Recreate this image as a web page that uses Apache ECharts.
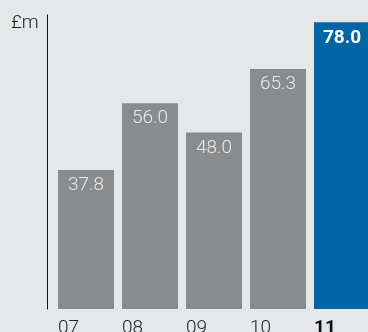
<!DOCTYPE html>
<html>
<head>
<meta charset="utf-8">
<style>
  html, body { margin: 0; padding: 0; background: #e6e7e9; }
  #chart { width: 368px; height: 332px; }
</style>
<script src="https://cdn.jsdelivr.net/npm/echarts@6/dist/echarts.min.js"></script>
</head>
<body>
<div id="chart"></div>
<script>
// Annual figures in £m
const years = ['07', '08', '09', '10', '11'];
const values = [37.8, 56.0, 48.0, 65.3, 78.0];
const highlightIndex = 4;

const grey = '#8a8b8d';
const blue = '#0065a5';
const font = 'Roboto, "Liberation Sans", sans-serif';
const barWidth = 56;

const chart = echarts.init(document.getElementById('chart'), null, { renderer: 'canvas' });

const barData = values.map((v, i) => {
  const hi = i === highlightIndex;
  return {
    value: v,
    itemStyle: { color: hi ? blue : grey },
    label: {
      color: hi ? '#ffffff' : '#eaeaea',
      fontWeight: hi ? 'bold' : 300
    }
  };
});

chart.setOption({
  backgroundColor: '#e6e7e9',
  animation: false,
  title: {
    text: '£m',
    left: 11,
    top: 14,
    padding: 0,
    textStyle: { fontFamily: font, fontSize: 19, fontWeight: 300, color: '#222222' }
  },
  grid: { left: 54, right: -6, top: 15, bottom: 23, outerBoundsMode: 'none', containLabel: false },
  xAxis: {
    type: 'category',
    data: years,
    axisLine: { show: false },
    axisTick: { show: false },
    axisLabel: {
      margin: 10,
      align: 'left',
      padding: [0, 0, 0, -barWidth / 2],
      fontFamily: font,
      fontSize: 19,
      fontWeight: 300,
      color: '#222222',
      formatter: (v, i) => i === highlightIndex ? '{b|' + v + '}' : v,
      rich: { b: { fontFamily: font, fontSize: 19, fontWeight: 'bold', color: '#111111' } }
    }
  },
  yAxis: {
    type: 'value',
    min: 0,
    max: 80,
    offset: 7,
    axisLine: { show: true, lineStyle: { color: '#111111', width: 1 } },
    axisTick: { show: false },
    axisLabel: { show: false },
    splitLine: { show: false }
  },
  series: [{
    type: 'bar',
    data: barData,
    barWidth: barWidth,
    label: {
      show: true,
      position: 'insideTop',
      distance: 6,
      fontFamily: font,
      fontSize: 19,
      formatter: p => p.value.toFixed(1)
    }
  }]
});
</script>
</body>
</html>
